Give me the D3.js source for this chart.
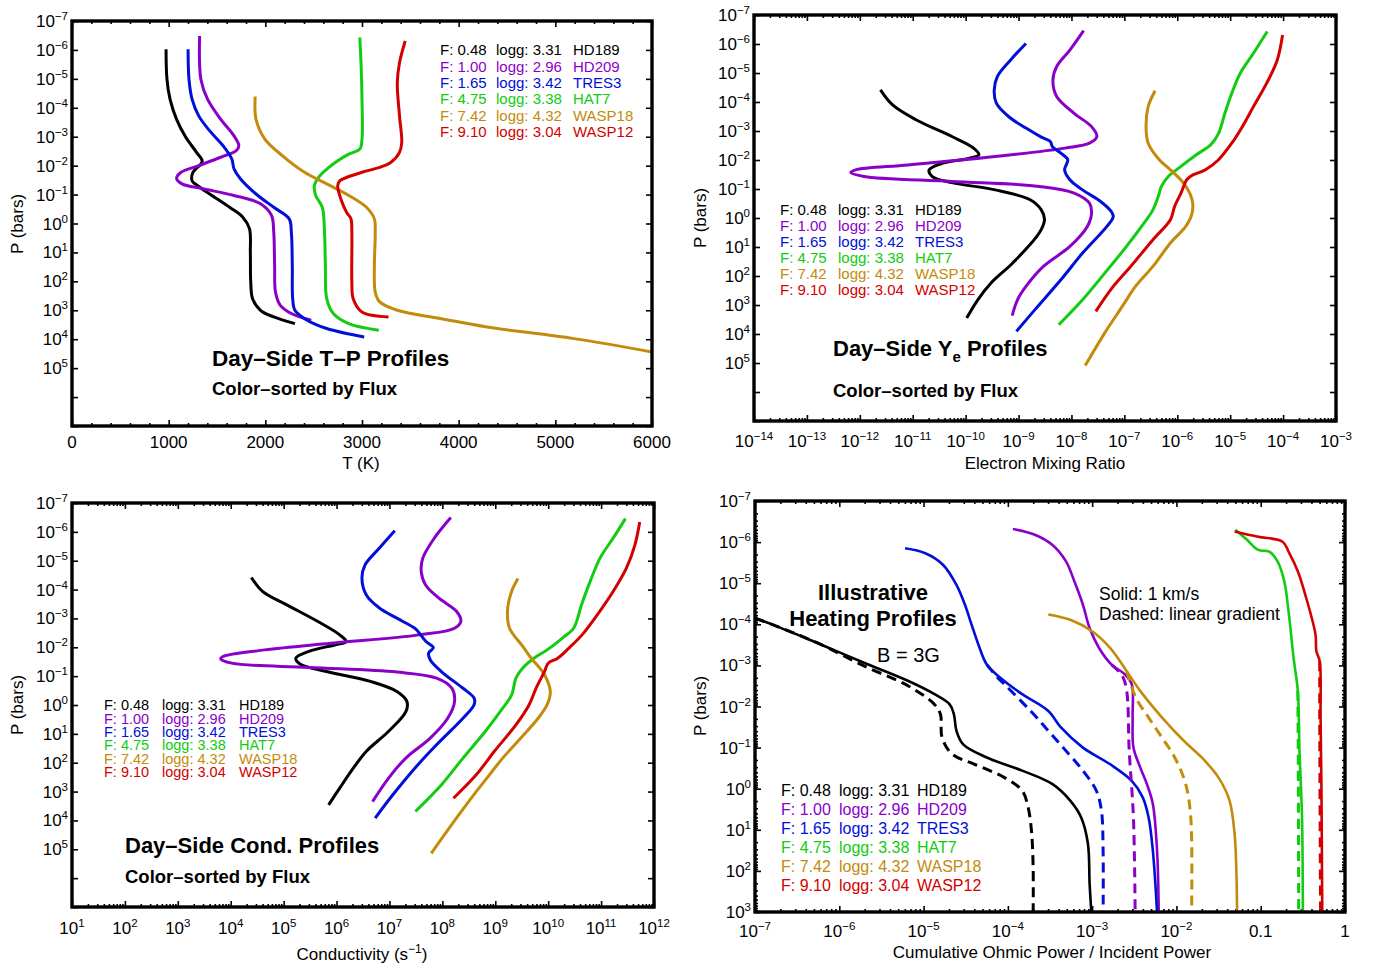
<!DOCTYPE html>
<html lang="en">
<head>
<meta charset="utf-8">
<script src="https://d3js.org/d3.v7.min.js"></script>
<style>
  body { margin: 0; background: #fff; }
  text { font-family: "Liberation Sans", Arial, Helvetica, sans-serif; fill: #000; }
</style>
</head>
<body>
<div id="graph"></div>
<script>
// legend rows, same order in every panel
var planets = ["HD189", "HD209", "TRES3", "HAT7", "WASP18", "WASP12"];
var fluxes = ["0.48", "1.00", "1.65", "4.75", "7.42", "9.10"];
var loggs = ["3.31", "2.96", "3.42", "3.38", "4.32", "3.04"];
var colors = ["#000000", "#8a00c8", "#0010d8", "#11cc11", "#c38b0b", "#d40000"];

// panel 1: [log10 P (bars), T (K)]
var tpHD189 = [[-6.02,973],[-5,982],[-4.3,1014],[-3.6,1082],[-3.0,1174],[-2.46,1288],[-2.15,1347],[-1.77,1251],[-1.48,1242],[-1.28,1311],[-0.97,1447],[-0.56,1630],[-0.22,1767],[0.18,1836],[1.0,1845],[2.02,1849],[2.6,1868],[3.0,1950],[3.23,2087],[3.46,2306]];
var tpHD209 = [[-6.48,1320],[-4.99,1333],[-4.3,1402],[-3.6,1539],[-3.03,1676],[-2.69,1726],[-2.52,1699],[-2.29,1539],[-2.0,1311],[-1.77,1128],[-1.56,1082],[-1.37,1137],[-1.2,1356],[-0.97,1676],[-0.68,1950],[-0.28,2064],[0.3,2087],[1.45,2096],[2.37,2105],[2.83,2155],[3.11,2269],[3.34,2475]];
var tpTRES3 = [[-6.02,1201],[-4.99,1210],[-4.3,1242],[-3.72,1311],[-3.2,1425],[-2.69,1562],[-2.23,1653],[-1.89,1676],[-1.54,1744],[-1.02,1904],[-0.56,2087],[-0.16,2247],[0.3,2269],[1.45,2279],[2.6,2283],[3.0,2306],[3.29,2406],[3.63,2635],[3.92,3023]];
var tpHAT7 = [[-6.43,2977],[-5.45,2991],[-4.3,3000],[-2.92,3000],[-2.57,2977],[-2.4,2863],[-2.17,2749],[-1.94,2658],[-1.66,2566],[-1.31,2507],[-0.97,2521],[-0.56,2589],[0.3,2612],[1.45,2621],[2.6,2635],[3.11,2703],[3.46,2863],[3.69,3174]];
var tpWASP18 = [[-4.39,1895],[-3.6,1904],[-2.92,1995],[-2.34,2178],[-1.77,2406],[-1.37,2635],[-0.97,2863],[-0.56,3046],[-0.16,3128],[0.3,3137],[1.45,3128],[2.37,3137],[2.71,3183],[3.0,3365],[3.29,3822],[3.57,4279],[3.98,5192],[4.44,6000]];
var tpWASP12 = [[-6.31,3447],[-5.56,3388],[-4.87,3365],[-3.72,3388],[-2.8,3411],[-2.46,3388],[-2.11,3297],[-1.94,3183],[-1.77,3000],[-1.48,2772],[-1.31,2749],[-0.85,2781],[-0.39,2840],[-0.16,2886],[0.3,2895],[2.02,2895],[2.6,2909],[3.06,3000],[3.23,3274]];

// panel 2: [log10 P, log10 electron mixing ratio]
var yeHD189 = [[-4.42,-11.61],[-3.9,-11.38],[-3.38,-10.93],[-2.81,-10.26],[-2.41,-9.85],[-2.18,-9.75],[-2.06,-9.93],[-1.89,-10.43],[-1.66,-10.69],[-1.43,-10.63],[-1.22,-10.26],[-0.97,-9.44],[-0.63,-8.78],[-0.28,-8.57],[0.06,-8.51],[0.52,-8.61],[1.55,-9.11],[2.24,-9.52],[2.82,-9.77],[3.45,-9.98]];
var yeHD209 = [[-6.46,-7.77],[-5.79,-8.03],[-5.22,-8.28],[-4.76,-8.35],[-4.19,-8.28],[-3.61,-7.95],[-3.15,-7.62],[-2.81,-7.52],[-2.58,-7.66],[-2.41,-8.12],[-2.12,-9.44],[-1.83,-11.09],[-1.66,-12.08],[-1.57,-12.17],[-1.43,-11.92],[-1.26,-10.26],[-1.09,-8.61],[-0.86,-7.95],[-0.51,-7.66],[-0.17,-7.62],[0.29,-7.7],[0.98,-8.03],[1.67,-8.53],[2.36,-8.86],[2.82,-9.02],[3.37,-9.12]];
var yeTRES3 = [[-6.02,-8.86],[-5.45,-9.15],[-4.88,-9.4],[-4.42,-9.46],[-3.96,-9.42],[-3.5,-9.19],[-3.1,-8.86],[-2.79,-8.57],[-2.64,-8.4],[-2.46,-8.36],[-2.24,-8.2],[-2.01,-8.07],[-1.83,-8.1],[-1.66,-8.13],[-1.32,-8.03],[-0.97,-7.79],[-0.57,-7.45],[-0.23,-7.25],[-0.05,-7.21],[0.29,-7.33],[1.21,-7.79],[2.13,-8.2],[3.16,-8.69],[3.91,-9.04]];
var yeHAT7 = [[-6.43,-4.3],[-5.68,-4.56],[-4.99,-4.81],[-4.3,-4.97],[-3.61,-5.1],[-2.92,-5.22],[-2.52,-5.37],[-2.18,-5.64],[-1.78,-5.93],[-1.43,-6.17],[-1.09,-6.3],[-0.74,-6.36],[-0.28,-6.46],[0.18,-6.63],[0.98,-6.96],[1.9,-7.37],[2.82,-7.79],[3.68,-8.24]];
var yeWASP18 = [[-4.39,-6.42],[-3.84,-6.55],[-3.15,-6.59],[-2.58,-6.55],[-2.01,-6.34],[-1.66,-6.13],[-1.2,-5.88],[-0.63,-5.72],[-0.17,-5.72],[0.29,-5.84],[0.86,-6.13],[1.67,-6.46],[2.36,-6.79],[3.05,-7.04],[3.96,-7.37],[5.09,-7.74]];
var yeWASP12 = [[-6.31,-4.01],[-5.45,-4.11],[-4.65,-4.31],[-3.84,-4.56],[-3.15,-4.77],[-2.58,-4.97],[-2.01,-5.22],[-1.66,-5.47],[-1.45,-5.74],[-1.32,-5.82],[-0.86,-5.93],[-0.4,-6.05],[0.06,-6.13],[0.75,-6.46],[1.67,-6.88],[2.36,-7.21],[3.22,-7.54]];

// panel 3: [log10 P, log10 conductivity]
var cdHD189 = [[-4.42,4.39],[-3.94,4.6],[-3.47,5.06],[-2.9,5.64],[-2.43,6.06],[-2.2,6.18],[-2.09,5.98],[-1.86,5.48],[-1.62,5.23],[-1.42,5.31],[-1.16,5.81],[-0.82,6.64],[-0.47,7.14],[-0.12,7.33],[0.23,7.31],[0.92,6.98],[1.61,6.56],[2.31,6.27],[2.88,6.06],[3.46,5.85]];
var cdHD209 = [[-6.5,8.16],[-5.79,7.85],[-5.09,7.63],[-4.63,7.6],[-4.17,7.68],[-3.71,7.93],[-3.24,8.27],[-2.9,8.35],[-2.66,8.23],[-2.43,7.56],[-2.14,5.89],[-1.91,4.64],[-1.68,3.85],[-1.6,3.81],[-1.45,4.02],[-1.3,5.48],[-1.14,7.14],[-0.93,7.89],[-0.58,8.18],[-0.12,8.23],[0.46,8.1],[1.15,7.77],[1.84,7.31],[2.54,6.98],[3.35,6.68]];
var cdTRES3 = [[-6.04,7.1],[-5.44,6.81],[-4.86,6.54],[-4.4,6.48],[-3.82,6.56],[-3.36,6.81],[-3.01,7.14],[-2.66,7.48],[-2.55,7.54],[-2.2,7.69],[-1.99,7.83],[-1.8,7.74],[-1.57,7.77],[-1.16,7.98],[-0.58,8.39],[-0.24,8.6],[-0.01,8.6],[0.46,8.39],[1.38,7.89],[2.19,7.48],[3.12,7.06],[3.92,6.73]];
var cdHAT7 = [[-6.46,11.46],[-5.79,11.23],[-5.09,10.98],[-4.17,10.77],[-3.47,10.63],[-2.66,10.48],[-2.32,10.27],[-1.91,9.98],[-1.62,9.73],[-1.28,9.52],[-0.93,9.39],[-0.35,9.31],[0.11,9.14],[0.92,8.81],[1.84,8.39],[2.77,7.98],[3.69,7.49]];
var cdWASP18 = [[-4.38,9.43],[-3.94,9.31],[-3.24,9.23],[-2.66,9.27],[-2.03,9.52],[-1.62,9.68],[-1.05,9.93],[-0.47,10.04],[-0.01,9.98],[0.46,9.81],[1.15,9.48],[1.84,9.14],[2.42,8.89],[3.0,8.64],[3.81,8.31],[5.14,7.79]];
var cdWASP12 = [[-6.34,11.73],[-5.55,11.64],[-4.75,11.48],[-3.94,11.23],[-3.13,10.93],[-2.43,10.64],[-1.97,10.39],[-1.62,10.18],[-1.45,10.0],[-1.16,9.93],[-0.58,9.77],[-0.01,9.64],[0.69,9.39],[1.61,8.98],[2.42,8.64],[3.23,8.21]];

// panel 4: [log10 P, log10 cumulative ohmic / incident power], solid (1 km/s) and dashed (gradient)
var htHD189 = [[-4.15,-7.0],[-3.95,-6.74],[-3.51,-6.22],[-3.06,-5.7],[-2.62,-5.18],[-2.3,-4.87],[-2.05,-4.69],[-1.81,-4.64],[-1.41,-4.61],[-1.08,-4.53],[-0.76,-4.25],[-0.44,-3.83],[-0.11,-3.47],[0.29,-3.26],[0.7,-3.13],[1.34,-3.05],[2.31,-3.03],[3.0,-3.01]];
var htHD209 = [[-6.32,-3.94],[-6.18,-3.68],[-5.93,-3.47],[-5.53,-3.31],[-5.04,-3.21],[-4.48,-3.11],[-3.91,-3.03],[-3.43,-2.92],[-3.02,-2.77],[-2.78,-2.61],[-2.54,-2.53],[-1.73,-2.52],[-1.0,-2.51],[-0.52,-2.43],[-0.11,-2.35],[0.37,-2.28],[1.5,-2.23],[3.0,-2.21]];
var htTRES3 = [[-5.85,-5.22],[-5.73,-4.98],[-5.45,-4.77],[-4.96,-4.61],[-4.48,-4.51],[-3.99,-4.43],[-3.51,-4.35],[-3.02,-4.25],[-2.7,-4.09],[-2.3,-3.83],[-1.89,-3.52],[-1.49,-3.37],[-1.0,-3.11],[-0.6,-2.79],[-0.19,-2.53],[0.21,-2.4],[0.7,-2.33],[1.5,-2.28],[3.0,-2.23]];
var htHAT7 = [[-6.3,-1.3],[-6.05,-1.16],[-5.81,-1.03],[-5.77,-0.9],[-5.53,-0.8],[-5.04,-0.72],[-4.32,-0.67],[-3.18,-0.61],[-2.38,-0.56],[-0.92,-0.54],[0.7,-0.51],[3.0,-0.5]];
var htWASP18 = [[-4.24,-3.52],[-4.11,-3.26],[-3.83,-3.0],[-3.43,-2.79],[-2.86,-2.59],[-2.38,-2.43],[-1.73,-2.17],[-1.16,-1.91],[-0.76,-1.7],[-0.27,-1.5],[0.29,-1.37],[1.1,-1.31],[1.91,-1.29],[3.0,-1.28]];
var htWASP12 = [[-6.26,-1.31],[-6.13,-1.03],[-6.01,-0.74],[-5.77,-0.67],[-5.29,-0.56],[-4.64,-0.46],[-3.75,-0.35],[-3.35,-0.34],[-3.1,-0.3],[-1.73,-0.29],[-0.11,-0.28],[3.0,-0.27]];
var hgHD189 = [[-4.15,-7.0],[-3.95,-6.74],[-3.51,-6.22],[-2.98,-5.7],[-2.5,-5.18],[-2.05,-4.87],[-1.81,-4.8],[-1.24,-4.78],[-0.84,-4.66],[-0.6,-4.4],[-0.27,-4.04],[0.05,-3.83],[0.45,-3.76],[1.02,-3.72],[1.91,-3.7],[3.0,-3.7]];
var hgHD209 = [[-3.02,-2.77],[-2.74,-2.64],[-2.38,-2.59],[-0.92,-2.56],[0.7,-2.51],[3.0,-2.49]];
var hgTRES3 = [[-3.02,-4.25],[-2.7,-4.12],[-2.54,-4.04],[-1.89,-3.73],[-1.41,-3.52],[-0.92,-3.31],[-0.44,-3.11],[0.05,-2.95],[0.53,-2.89],[1.5,-2.87],[3.0,-2.87]];
var hgHAT7 = [[-2.38,-0.56],[-0.92,-0.555],[3.0,-0.55]];
var hgWASP18 = [[-2.86,-2.59],[-2.21,-2.48],[-1.73,-2.33],[-1.24,-2.17],[-0.76,-2.02],[-0.11,-1.89],[0.7,-1.83],[3.0,-1.82]];
var hgWASP12 = [[-3.1,-0.3],[-1.73,-0.3],[3.0,-0.29]];

// tick labels
var tpTicks = [0, 1000, 2000, 3000, 4000, 5000, 6000];
var yeTicks = [-14, -13, -12, -11, -10, -9, -8, -7, -6, -5, -4, -3];
var cdTicks = [1, 2, 3, 4, 5, 6, 7, 8, 9, 10, 11, 12];
var htTicks = [-7, -6, -5, -4, -3, -2, -1, 0];
var pLabels = [-7, -6, -5, -4, -3, -2, -1, 0, 1, 2, 3, 4, 5];
var pLabelsHeat = [-7, -6, -5, -4, -3, -2, -1, 0, 1, 2, 3];

var svg = d3.select("#graph").append("svg")
    .attr("width", 1375)
    .attr("height", 967);

function pow10(sel, e, supSize) {
    sel.append("tspan").text("10");
    sel.append("tspan")
        .attr("dy", -7)
        .attr("font-size", supSize + "px")
        .text(e < 0 ? "\u2212" + (-e) : e);
}

function logMinor(lo, hi) {
    var out = [];
    for (var e = lo; e < hi; e++)
        for (var m = 2; m < 10; m++) out.push(m * Math.pow(10, e));
    return out;
}

var clipId = 0;

function drawPanel(p) {
    var g = svg.append("g");
    var x = p.x, y = p.y;
    var L = p.box[0], T = p.box[1], R = p.box[2], B = p.box[3];

    // inward ticks on all four sides
    function ticks(vals, size) {
        [[d3.axisBottom(x), "translate(0," + B + ")"],
         [d3.axisTop(x), "translate(0," + T + ")"]].forEach(function(a) {
            var ax = g.append("g").attr("transform", a[1])
                .call(a[0].tickValues(vals).tickSize(-size).tickFormat(""));
            ax.select(".domain").remove();
            ax.selectAll("line").attr("stroke", "#000").attr("stroke-width", 1.6);
        });
    }
    function yticks(vals, size) {
        [[d3.axisLeft(y), "translate(" + L + ",0)"],
         [d3.axisRight(y), "translate(" + R + ",0)"]].forEach(function(a) {
            var ax = g.append("g").attr("transform", a[1])
                .call(a[0].tickValues(vals).tickSize(-size).tickFormat(""));
            ax.select(".domain").remove();
            ax.selectAll("line").attr("stroke", "#000").attr("stroke-width", 1.6);
        });
    }
    ticks(p.xMajor, 6);
    if (p.xMinor) ticks(p.xMinor, 3);
    yticks(p.yMajor, 6);
    if (p.yMinor) yticks(p.yMinor, 3);

    // curves
    var id = "clip" + (clipId++);
    g.append("clipPath").attr("id", id).append("rect")
        .attr("x", L).attr("y", T).attr("width", R - L).attr("height", B - T);
    var line = d3.line()
        .x(function(d) { return x(d[1]); })
        .y(function(d) { return y(d[0]); })
        .curve(d3.curveCatmullRom.alpha(0.5));
    var curves = g.append("g").attr("clip-path", "url(#" + id + ")");
    p.series.forEach(function(s) {
        curves.append("path")
            .datum(s.data.map(p.toData))
            .attr("fill", "none")
            .attr("stroke", s.color)
            .attr("stroke-width", s.width || p.lineWidth)
            .attr("stroke-dasharray", s.dash || null)
            .attr("stroke-linejoin", "round")
            .attr("d", line);
    });

    // frame
    g.append("rect")
        .attr("x", L).attr("y", T).attr("width", R - L).attr("height", B - T)
        .attr("fill", "none").attr("stroke", "#000").attr("stroke-width", 3.4);

    // y tick labels
    p.yLabels.forEach(function(e) {
        var t = g.append("text")
            .attr("x", L - 4)
            .attr("y", y(Math.pow(10, e)) + 6)
            .attr("text-anchor", "end")
            .attr("font-size", "17px");
        pow10(t, e, 11.5);
    });
    // x tick labels
    p.xLabels.forEach(function(v) {
        var t = g.append("text")
            .attr("x", x(p.xTickValue(v)))
            .attr("y", p.xLabelY)
            .attr("text-anchor", "middle")
            .attr("font-size", "17px");
        p.xLabelText(t, v);
    });

    // axis titles
    var xl = g.append("text")
        .attr("x", p.xTitle[1]).attr("y", p.xTitle[2])
        .attr("text-anchor", "middle").attr("font-size", "17px");
    p.xTitle[0](xl);
    g.append("text")
        .attr("transform", "translate(" + p.yTitle[0] + "," + p.yTitle[1] + ") rotate(-90)")
        .attr("text-anchor", "middle").attr("font-size", "17px")
        .text("P (bars)");

    // legend
    var lg = p.legend;
    planets.forEach(function(name, i) {
        var cols = ["F: " + fluxes[i], "logg: " + loggs[i], name];
        cols.forEach(function(c, j) {
            g.append("text")
                .attr("x", lg.x[j])
                .attr("y", lg.y + i * lg.dy + lg.size * 0.36)
                .attr("font-size", lg.size + "px")
                .style("fill", colors[i])
                .text(c);
        });
    });
    return g;
}

function logPair(d) { return [Math.pow(10, d[0]), Math.pow(10, d[1])]; }

// ---- panel 1: temperature ----
var g1 = drawPanel({
    box: [72, 21, 652, 426],
    x: d3.scaleLinear().domain([0, 6000]).range([72, 652]),
    y: d3.scaleLog().domain([1e-7, 1e7]).range([21, 426]),
    xMajor: tpTicks,
    xMinor: d3.range(200, 6000, 200).filter(function(v) { return v % 1000; }),
    yMajor: d3.range(-7, 8).map(function(e) { return Math.pow(10, e); }),
    yLabels: pLabels,
    xLabels: tpTicks,
    xTickValue: function(v) { return v; },
    xLabelText: function(t, v) { t.text(v); },
    xLabelY: 448,
    xTitle: [function(t) { t.text("T (K)"); }, 361, 469],
    yTitle: [23, 224],
    toData: function(d) { return [Math.pow(10, d[0]), d[1]]; },
    lineWidth: 3,
    series: [tpHD189, tpHD209, tpTRES3, tpHAT7, tpWASP18, tpWASP12].map(function(d, i) {
        return {data: d, color: colors[i]};
    }),
    legend: {x: [440, 496, 573], y: 50, dy: 16.3, size: 15}
});
g1.append("text").attr("x", 212).attr("y", 366).attr("font-size", "22.5px")
    .attr("font-weight", "bold").text("Day\u2013Side T\u2013P Profiles");
g1.append("text").attr("x", 212).attr("y", 395).attr("font-size", "18.5px")
    .attr("font-weight", "bold").text("Color\u2013sorted by Flux");

// ---- panel 2: electron mixing ratio ----
var g2 = drawPanel({
    box: [754, 15, 1336, 421],
    x: d3.scaleLog().domain([1e-14, 1e-3]).range([754, 1336]),
    y: d3.scaleLog().domain([1e-7, 1e7]).range([15, 421]),
    xMajor: yeTicks.map(function(e) { return Math.pow(10, e); }),
    xMinor: logMinor(-14, -3),
    yMajor: d3.range(-7, 8).map(function(e) { return Math.pow(10, e); }),
    yLabels: pLabels,
    xLabels: yeTicks,
    xTickValue: function(e) { return Math.pow(10, e); },
    xLabelText: function(t, e) { pow10(t, e, 11.5); },
    xLabelY: 447,
    xTitle: [function(t) { t.text("Electron Mixing Ratio"); }, 1045, 469],
    yTitle: [706, 218],
    toData: logPair,
    lineWidth: 3,
    series: [yeHD189, yeHD209, yeTRES3, yeHAT7, yeWASP18, yeWASP12].map(function(d, i) {
        return {data: d, color: colors[i]};
    }),
    legend: {x: [780, 838, 915], y: 210, dy: 16, size: 15}
});
var t2 = g2.append("text").attr("x", 833).attr("y", 356).attr("font-size", "22px")
    .attr("font-weight", "bold");
t2.append("tspan").text("Day\u2013Side Y");
t2.append("tspan").attr("dy", 6).attr("font-size", "15px").text("e");
t2.append("tspan").attr("dy", -6).text(" Profiles");
g2.append("text").attr("x", 833).attr("y", 397).attr("font-size", "18.5px")
    .attr("font-weight", "bold").text("Color\u2013sorted by Flux");

// ---- panel 3: conductivity ----
var g3 = drawPanel({
    box: [72, 503, 654, 907],
    x: d3.scaleLog().domain([1e1, 1e12]).range([72, 654]),
    y: d3.scaleLog().domain([1e-7, 1e7]).range([503, 907]),
    xMajor: cdTicks.map(function(e) { return Math.pow(10, e); }),
    xMinor: logMinor(1, 12),
    yMajor: d3.range(-7, 8).map(function(e) { return Math.pow(10, e); }),
    yLabels: pLabels,
    xLabels: cdTicks,
    xTickValue: function(e) { return Math.pow(10, e); },
    xLabelText: function(t, e) { pow10(t, e, 11.5); },
    xLabelY: 934,
    xTitle: [function(t) {
        t.append("tspan").text("Conductivity (s");
        t.append("tspan").attr("dy", -7).attr("font-size", "12px").text("\u22121");
        t.append("tspan").attr("dy", 7).text(")");
    }, 362, 960],
    yTitle: [23, 705],
    toData: logPair,
    lineWidth: 3,
    series: [cdHD189, cdHD209, cdTRES3, cdHAT7, cdWASP18, cdWASP12].map(function(d, i) {
        return {data: d, color: colors[i]};
    }),
    legend: {x: [104, 162, 239], y: 705, dy: 13.4, size: 14.5}
});
g3.append("text").attr("x", 125).attr("y", 853).attr("font-size", "22px")
    .attr("font-weight", "bold").text("Day\u2013Side Cond. Profiles");
g3.append("text").attr("x", 125).attr("y", 883).attr("font-size", "18.5px")
    .attr("font-weight", "bold").text("Color\u2013sorted by Flux");

// ---- panel 4: cumulative ohmic heating ----
var solid = [htHD189, htHD209, htTRES3, htHAT7, htWASP18, htWASP12];
var dashed = [hgHD189, hgHD209, hgTRES3, hgHAT7, hgWASP18, hgWASP12];
var g4 = drawPanel({
    box: [755, 501, 1345, 912],
    x: d3.scaleLog().domain([1e-7, 1]).range([755, 1345]),
    y: d3.scaleLog().domain([1e-7, 1e3]).range([501, 912]),
    xMajor: htTicks.map(function(e) { return Math.pow(10, e); }),
    xMinor: logMinor(-7, 0),
    yMajor: d3.range(-7, 4).map(function(e) { return Math.pow(10, e); }),
    yMinor: logMinor(-7, 3),
    yLabels: pLabelsHeat,
    xLabels: htTicks,
    xTickValue: function(e) { return Math.pow(10, e); },
    xLabelText: function(t, e) {
        if (e === -1) t.text("0.1");
        else if (e === 0) t.text("1");
        else pow10(t, e, 11.5);
    },
    xLabelY: 937,
    xTitle: [function(t) { t.text("Cumulative Ohmic Power / Incident Power"); }, 1052, 958],
    yTitle: [706, 706],
    toData: logPair,
    lineWidth: 2.6,
    series: solid.map(function(d, i) { return {data: d, color: colors[i]}; })
        .concat(dashed.map(function(d, i) { return {data: d, color: colors[i], dash: "10,6", width: 3}; })),
    legend: {x: [781, 839, 917], y: 790, dy: 19, size: 16}
});
g4.append("text").attr("x", 873).attr("y", 600).attr("font-size", "22px")
    .attr("font-weight", "bold").attr("text-anchor", "middle").text("Illustrative");
g4.append("text").attr("x", 873).attr("y", 626).attr("font-size", "22px")
    .attr("font-weight", "bold").attr("text-anchor", "middle").text("Heating Profiles");
g4.append("text").attr("x", 877).attr("y", 662).attr("font-size", "20px").text("B = 3G");
g4.append("text").attr("x", 1099).attr("y", 600).attr("font-size", "17.5px").text("Solid: 1 km/s");
g4.append("text").attr("x", 1099).attr("y", 620).attr("font-size", "17.5px").text("Dashed: linear gradient");
</script>
</body>
</html>
